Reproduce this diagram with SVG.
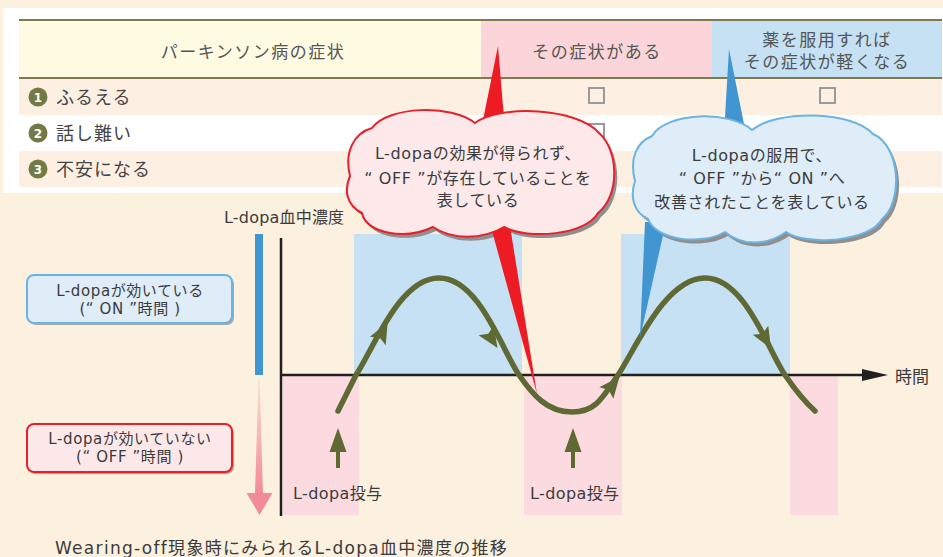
<svg xmlns="http://www.w3.org/2000/svg" width="943" height="557" viewBox="0 0 943 557">
<defs>
<style>
.t{font-family:"DejaVu Sans","Noto Sans CJK JP",sans-serif;fill:#3b3b3b}
.hd{font-size:17px;letter-spacing:1.5px;fill:#555;text-anchor:middle}
.row{font-size:18px;letter-spacing:1px;fill:#444}
.num{font-family:"DejaVu Sans",sans-serif;font-size:12px;font-weight:bold;fill:#fff;text-anchor:middle}
.cb{fill:none;stroke:#9a9a9a;stroke-width:2}
.ct{font-size:16px;letter-spacing:0.6px;text-anchor:middle}
.lb{font-size:15px;letter-spacing:0.6px;text-anchor:middle}
.ax{stroke:#231f20;stroke-width:2.5;fill:none}
.on{fill:#c6e1f3}
.off{fill:#fcdbe0}
.curve{fill:none;stroke:#5f6934;stroke-width:5.5;stroke-linecap:round;stroke-linejoin:round}
.gh{fill:#5f6934}
.shadow{fill:#8f8f8f}
</style>
<linearGradient id="pg" x1="0" y1="0" x2="0" y2="1">
<stop offset="0" stop-color="#f28b95" stop-opacity="0.15"/>
<stop offset="1" stop-color="#f28b95" stop-opacity="1"/>
</linearGradient>
<path id="ah" d="M 12 0 L -9 -9 L -5 0 L -9 9 Z"/>
<path id="rc" d="M 350 176 C 344 152 354 133 372 128 C 388 106 452 104 475 123 C 500 104 578 108 599 133 C 619 150 620 196 598 213 C 586 235 528 240 504 227 C 482 240 452 240 433 227 C 406 240 366 234 362 213 C 346 205 344 190 350 176 Z"/>
<path id="bc" d="M 635 181 C 629 158 637 142 652 136 C 666 112 730 110 752 130 C 776 110 852 110 873 134 C 901 146 903 202 882 219 C 870 242 806 246 786 232 C 766 246 742 246 725 232 C 700 246 656 240 648 219 C 633 212 630 196 635 181 Z"/>
</defs>

<rect id="background" x="0" y="0" width="943" height="557" fill="#fcf0df"/>

<g id="table">
<rect x="3" y="8" width="940" height="185" fill="#ffffff"/>
<rect x="19" y="20" width="462" height="58" fill="#fffbe3"/>
<rect x="481" y="20" width="231" height="58" fill="#fbd5d9"/>
<rect x="712" y="20" width="230" height="58" fill="#c5e1f3"/>
<line x1="19" y1="20" x2="942" y2="20" stroke="#7d7a4f" stroke-width="2"/>
<line x1="19" y1="78" x2="942" y2="78" stroke="#7d7a4f" stroke-width="2"/>
<rect x="19" y="79" width="923" height="36" fill="#fdf0e3"/>
<rect x="19" y="151" width="923" height="36" fill="#fdf0e3"/>
<text class="t hd" x="253" y="58">パーキンソン病の症状</text>
<text class="t hd" x="597" y="58">その症状がある</text>
<text class="t hd" x="827" y="46">薬を服用すれば</text>
<text class="t hd" x="827" y="68">その症状が軽くなる</text>
<g id="row1">
<circle cx="38" cy="97" r="9.5" fill="#737a45"/>
<text class="num" x="38" y="101.5">1</text>
<text class="t row" x="56" y="104">ふるえる</text>
<rect class="cb" x="589" y="88" width="15" height="15"/>
<rect class="cb" x="820" y="88" width="15" height="15"/>
</g>
<g id="row2">
<circle cx="38" cy="133" r="9.5" fill="#737a45"/>
<text class="num" x="38" y="137.5">2</text>
<text class="t row" x="56" y="140">話し難い</text>
<rect class="cb" x="589" y="124" width="15" height="15"/>
<rect class="cb" x="820" y="124" width="15" height="15"/>
</g>
<g id="row3">
<circle cx="38" cy="169" r="9.5" fill="#737a45"/>
<text class="num" x="38" y="173.5">3</text>
<text class="t row" x="56" y="176">不安になる</text>
<rect class="cb" x="589" y="160" width="15" height="15"/>
<rect class="cb" x="820" y="160" width="15" height="15"/>
</g>
</g>

<g id="chart">
<rect class="on" x="354" y="234" width="168" height="141"/>
<rect class="on" x="621" y="234" width="169" height="141"/>
<rect class="off" x="283" y="376" width="76" height="139"/>
<rect class="off" x="524" y="376" width="98" height="139"/>
<rect class="off" x="790" y="376" width="48" height="139"/>
<text class="t" x="224" y="223" font-size="16" letter-spacing="0.2">L-dopa血中濃度</text>
<rect x="255" y="234" width="8" height="141" fill="#4196d2"/>
<polygon points="258.5,378 259.5,378 263,494 255,494" fill="url(#pg)"/>
<polygon points="246.5,493 272.5,493 259.5,515" fill="#f28b95"/>
<line class="ax" x1="281" y1="238" x2="281" y2="516"/>
<line class="ax" x1="281" y1="375" x2="866" y2="375"/>
<polygon points="862,369 888,375 862,381" fill="#231f20"/>
<text class="t" x="895" y="383" font-size="17">時間</text>
</g>

<g id="concentration-curve">
<path class="curve" d="M 338 411 L 356 375 C 373 350 399 278 439 278 C 479 278 502 350 519 375 C 533 395 547 412 572 412 C 597 412 604 395 618 375 C 635 350 665 278 705 278 C 745 278 768 350 785 375 C 796 391 806 403 815 411"/>
<use href="#ah" class="gh" transform="translate(382,333) rotate(-62)"/>
<use href="#ah" class="gh" transform="translate(491,338) rotate(57)"/>
<use href="#ah" class="gh" transform="translate(612,386) rotate(-51)"/>
<use href="#ah" class="gh" transform="translate(765,338) rotate(60)"/>
</g>

<g id="connectors">
<rect x="336" y="450" width="4" height="18" class="gh"/>
<polygon points="329.5,452 338,428 346.5,452" class="gh"/>
<rect x="571" y="450" width="4" height="18" class="gh"/>
<polygon points="564.5,452 573,428 581.5,452" class="gh"/>
</g>

<g id="dose-label-1">
<text class="t" x="293" y="499" font-size="16" letter-spacing="0.4">L-dopa投与</text>
</g>
<g id="dose-label-2">
<text class="t" x="530" y="499" font-size="16" letter-spacing="0.4">L-dopa投与</text>
</g>

<g id="on-label">
<rect x="29" y="277" width="205" height="48" rx="7" fill="#a9a9a9"/>
<rect x="27" y="275" width="205" height="48" rx="7" fill="#deedf8" stroke="#6ab4e4" stroke-width="2"/>
<text class="t lb" x="130" y="296">L-dopaが効いている</text>
<text class="t lb" x="130" y="314">(“ ON ”時間 )</text>
</g>

<g id="off-label">
<rect x="29" y="426" width="205" height="48" rx="7" fill="#a9a9a9"/>
<rect x="27" y="424" width="205" height="48" rx="7" fill="#fde8e9" stroke="#e8202a" stroke-width="2"/>
<text class="t lb" x="130" y="444">L-dopaが効いていない</text>
<text class="t lb" x="130" y="462">(“ OFF ”時間 )</text>
</g>

<g id="off-cloud">
<use href="#rc" class="shadow" transform="translate(3,4)"/>
<polygon points="498,46 481,130 505,130" fill="#ed1c24"/>
<polygon points="489,220 509,220 537,394" fill="#ed1c24"/>
<use href="#rc" fill="#fde9e9" stroke="#e8202a" stroke-width="2"/>
<text class="t ct" x="478" y="159">L-dopaの効果が得られず、</text>
<text class="t ct" x="478" y="184">“ OFF ”が存在していることを</text>
<text class="t ct" x="478" y="206">表している</text>
</g>

<g id="on-cloud">
<use href="#bc" class="shadow" transform="translate(3,4)"/>
<polygon points="729,49 724,134 746,134" fill="#4196d2"/>
<polygon points="645,222 666,222 640,338" fill="#4196d2"/>
<use href="#bc" fill="#dfedf8" stroke="#6cb3e2" stroke-width="2"/>
<text class="t ct" x="762" y="161">L-dopaの服用で、</text>
<text class="t ct" x="762" y="184">“ OFF ”から“ ON ”へ</text>
<text class="t ct" x="762" y="208">改善されたことを表している</text>
</g>

<g id="caption">
<text class="t" x="55" y="554" font-size="17" letter-spacing="1.3">Wearing-off現象時にみられるL-dopa血中濃度の推移</text>
</g>
</svg>
